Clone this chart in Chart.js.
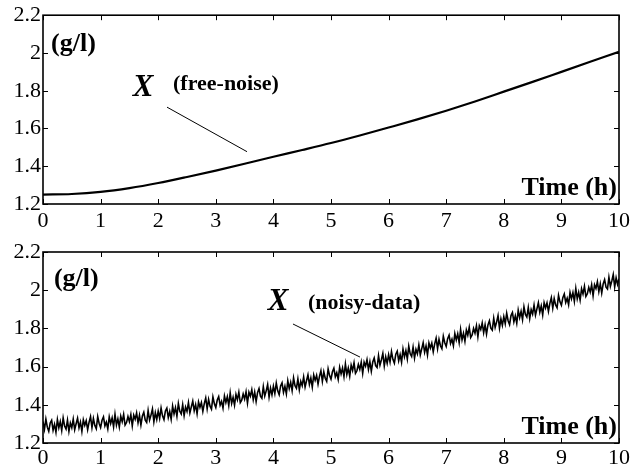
<!DOCTYPE html>
<html>
<head>
<meta charset="utf-8">
<script src="https://cdn.jsdelivr.net/npm/chart.js@4.4.1/dist/chart.umd.min.js"></script>
<style>
    html, body { margin: 0; padding: 0; background: #fff; }
    #wrap { position: relative; width: 643px; height: 465px; }
    .panel { position: absolute; left: 0; width: 643px; }
    #top-panel { top: 0; height: 232px; }
    #bottom-panel { top: 232px; height: 233px; }
</style>
</head>
<body>
<div id="wrap">
    <div class="panel" id="top-panel"><canvas id="chart-top"></canvas></div>
    <div class="panel" id="bottom-panel"><canvas id="chart-bottom"></canvas></div>
</div>
<script>
// Biomass X (g/l) over time (h)
const xTickValues = [0, 1, 2, 3, 4, 5, 6, 7, 8, 9, 10];
const yTickValues = [1.2, 1.4, 1.6, 1.8, 2.0, 2.2];

// free-noise simulation, read every half hour
const hours = [0, 0.5, 1, 1.5, 2, 2.5, 3, 3.5, 4, 4.5, 5, 5.5, 6, 6.5, 7, 7.5, 8, 8.5, 9, 9.5, 10];
const freeNoise = [1.250, 1.253, 1.264, 1.284, 1.311, 1.343, 1.377, 1.413, 1.450, 1.486, 1.523,
                   1.563, 1.605, 1.648, 1.694, 1.743, 1.795, 1.847, 1.900, 1.953, 2.006];

// noisy measurements, one sample every 0.025 h (10 per row = 0.25 h)
const noisyStep = 0.025;
const noisyData = [
    1.312, 1.272, 1.325, 1.283, 1.261, 1.305, 1.319, 1.267, 1.298, 1.256,
    1.323, 1.280, 1.312, 1.266, 1.331, 1.289, 1.273, 1.320, 1.261, 1.305,
    1.280, 1.325, 1.270, 1.301, 1.330, 1.279, 1.310, 1.261, 1.322, 1.293,
    1.317, 1.270, 1.309, 1.338, 1.280, 1.328, 1.292, 1.275, 1.338, 1.302,
    1.281, 1.319, 1.337, 1.290, 1.310, 1.274, 1.337, 1.302, 1.331, 1.284,
    1.350, 1.294, 1.326, 1.284, 1.341, 1.312, 1.350, 1.294, 1.307, 1.339,
    1.312, 1.349, 1.290, 1.346, 1.324, 1.358, 1.306, 1.345, 1.294, 1.341,
    1.361, 1.320, 1.308, 1.370, 1.320, 1.346, 1.378, 1.311, 1.359, 1.323,
    1.367, 1.329, 1.383, 1.342, 1.322, 1.368, 1.383, 1.333, 1.365, 1.324,
    1.393, 1.352, 1.385, 1.340, 1.407, 1.366, 1.352, 1.401, 1.343, 1.388,
    1.365, 1.411, 1.357, 1.389, 1.419, 1.369, 1.401, 1.353, 1.415, 1.387,
    1.412, 1.366, 1.406, 1.436, 1.379, 1.428, 1.393, 1.377, 1.441, 1.406,
    1.386, 1.425, 1.443, 1.398, 1.418, 1.383, 1.446, 1.412, 1.442, 1.396,
    1.462, 1.407, 1.439, 1.398, 1.455, 1.427, 1.466, 1.411, 1.424, 1.457,
    1.430, 1.468, 1.409, 1.466, 1.445, 1.479, 1.427, 1.467, 1.417, 1.464,
    1.485, 1.445, 1.434, 1.495, 1.446, 1.473, 1.506, 1.440, 1.487, 1.452,
    1.497, 1.459, 1.514, 1.473, 1.453, 1.499, 1.515, 1.465, 1.497, 1.457,
    1.526, 1.485, 1.518, 1.474, 1.541, 1.500, 1.486, 1.535, 1.478, 1.523,
    1.500, 1.546, 1.493, 1.526, 1.557, 1.507, 1.540, 1.492, 1.556, 1.528,
    1.554, 1.508, 1.549, 1.579, 1.523, 1.573, 1.539, 1.523, 1.588, 1.553,
    1.534, 1.573, 1.592, 1.547, 1.568, 1.533, 1.596, 1.562, 1.593, 1.547,
    1.614, 1.559, 1.592, 1.550, 1.608, 1.580, 1.620, 1.565, 1.578, 1.611,
    1.585, 1.623, 1.565, 1.623, 1.602, 1.636, 1.585, 1.625, 1.576, 1.624,
    1.645, 1.605, 1.595, 1.657, 1.608, 1.636, 1.669, 1.603, 1.651, 1.617,
    1.662, 1.624, 1.679, 1.638, 1.618, 1.665, 1.681, 1.631, 1.663, 1.623,
    1.692, 1.651, 1.684, 1.640, 1.707, 1.667, 1.653, 1.702, 1.645, 1.690,
    1.667, 1.713, 1.661, 1.693, 1.725, 1.675, 1.708, 1.661, 1.724, 1.697,
    1.723, 1.677, 1.719, 1.749, 1.694, 1.743, 1.709, 1.694, 1.759, 1.725,
    1.706, 1.746, 1.765, 1.721, 1.743, 1.709, 1.773, 1.740, 1.772, 1.726,
    1.794, 1.740, 1.774, 1.733, 1.792, 1.765, 1.806, 1.752, 1.766, 1.800,
    1.775, 1.814, 1.756, 1.814, 1.794, 1.829, 1.778, 1.819, 1.770, 1.818,
    1.840, 1.801, 1.791, 1.853, 1.805, 1.833, 1.867, 1.802, 1.850, 1.816,
    1.862, 1.825, 1.880, 1.840, 1.820, 1.867, 1.883, 1.834, 1.866, 1.827,
    1.896, 1.856, 1.889, 1.846, 1.913, 1.873, 1.859, 1.909, 1.852, 1.898,
    1.875, 1.922, 1.869, 1.902, 1.934, 1.885, 1.918, 1.871, 1.935, 1.907,
    1.934, 1.889, 1.931, 1.961, 1.906, 1.956, 1.923, 1.908, 1.973, 1.939,
    1.921, 1.961, 1.980, 1.936, 1.958, 1.924, 1.988, 1.955, 1.987, 1.941,
    2.009, 1.955, 1.989, 1.948, 2.007, 1.980, 2.021, 1.967, 1.981, 2.015,
    1.990, 2.029, 1.971, 2.029, 2.009, 2.044, 1.993, 2.034, 1.985, 2.033,
    2.055, 2.016, 2.006, 2.068, 2.020, 2.048, 2.082, 2.017, 2.065, 2.031,
    2.060
];

const SERIF = '"Liberation Serif", "Times New Roman", serif';
Chart.defaults.font.family = SERIF;
Chart.defaults.font.size = 22;
Chart.defaults.color = '#000';

// box + inward ticks on all four sides, plus the text notes (in data units)
const matlabFrame = {
    id: 'matlabFrame',
    afterDatasetsDraw(chart, args, opts) {
        const { ctx, chartArea: a, scales: { x, y } } = chart;
        ctx.save();
        ctx.strokeStyle = '#000';
        ctx.lineWidth = 1;
        ctx.beginPath();
        x.ticks.forEach(t => {
            const px = Math.round(x.getPixelForValue(t.value)) + 0.5;
            ctx.moveTo(px, a.bottom); ctx.lineTo(px, a.bottom - 5);
            ctx.moveTo(px, a.top); ctx.lineTo(px, a.top + 5);
        });
        y.ticks.forEach(t => {
            const py = Math.round(y.getPixelForValue(t.value)) + 0.5;
            ctx.moveTo(a.left, py); ctx.lineTo(a.left + 5, py);
            ctx.moveTo(a.right, py); ctx.lineTo(a.right - 5, py);
        });
        ctx.stroke();
        ctx.lineWidth = 1.6;
        ctx.strokeRect(a.left, a.top, a.right - a.left, a.bottom - a.top);

        (opts.notes || []).forEach(n => {
            if (n.type === 'line') {
                ctx.lineWidth = 1;
                ctx.beginPath();
                ctx.moveTo(x.getPixelForValue(n.from[0]), y.getPixelForValue(n.from[1]));
                ctx.lineTo(x.getPixelForValue(n.to[0]), y.getPixelForValue(n.to[1]));
                ctx.stroke();
            } else {
                ctx.font = n.font;
                ctx.fillStyle = '#000';
                ctx.textAlign = n.align || 'left';
                ctx.textBaseline = 'middle';
                ctx.fillText(n.text, x.getPixelForValue(n.at[0]), y.getPixelForValue(n.at[1]));
            }
        });
        ctx.restore();
    }
};

function makeOptions(padTop, xAxisHeight, labelPad, notes) {
    return {
        responsive: true,
        maintainAspectRatio: false,
        animation: false,
        devicePixelRatio: 1,
        layout: { padding: { top: padTop, right: 24, left: 0, bottom: 0 } },
        scales: {
            x: {
                type: 'linear',
                min: 0, max: 10,
                afterBuildTicks: s => { s.ticks = xTickValues.map(v => ({ value: v })); },
                afterFit: s => { s.height = xAxisHeight; },
                ticks: { padding: labelPad, maxRotation: 0, autoSkip: false, callback: v => String(v) },
                grid: { display: false, drawTicks: false },
                border: { display: false }
            },
            y: {
                type: 'linear',
                min: 1.2, max: 2.2,
                afterBuildTicks: s => { s.ticks = yTickValues.map(v => ({ value: v })); },
                afterFit: s => { s.width = 43; },
                ticks: { padding: 2, callback: v => String(Math.round(v * 10) / 10) },
                grid: { display: false, drawTicks: false },
                border: { display: false }
            }
        },
        plugins: {
            legend: { display: false },
            tooltip: { enabled: false },
            matlabFrame: { notes: notes }
        }
    };
}

const BOLD = 'bold 26px ' + SERIF;
const BOLD_SMALL = 'bold 22px ' + SERIF;
const BIG_X = 'italic bold 31px ' + SERIF;

new Chart(document.getElementById('chart-top'), {
    type: 'line',
    data: {
        datasets: [{
            label: 'X (free-noise)',
            data: hours.map((h, i) => ({ x: h, y: freeNoise[i] })),
            borderColor: '#000',
            borderWidth: 2.2,
            pointRadius: 0,
            cubicInterpolationMode: 'monotone'
        }]
    },
    options: makeOptions(13, 28, 4, [
        { text: '(g/l)', at: [0.14, 2.048], font: BOLD },
        { text: 'X', at: [1.736, 1.812], font: BIG_X, align: 'center' },
        { text: '(free-noise)', at: [2.257, 1.834], font: BOLD_SMALL },
        { type: 'line', from: [2.153, 1.713], to: [3.542, 1.477] },
        { text: 'Time (h)', at: [9.965, 1.284], font: BOLD, align: 'right' }
    ]),
    plugins: [matlabFrame]
});

new Chart(document.getElementById('chart-bottom'), {
    type: 'line',
    data: {
        datasets: [{
            label: 'X (noisy-data)',
            data: noisyData.map((v, i) => ({ x: i * noisyStep, y: v })),
            borderColor: '#000',
            borderWidth: 1.6,
            pointRadius: 0,
            tension: 0
        }]
    },
    options: makeOptions(20, 22, 2, [
        { text: '(g/l)', at: [0.19, 2.059], font: BOLD },
        { text: 'X', at: [4.08, 1.938], font: BIG_X, align: 'center' },
        { text: '(noisy-data)', at: [4.6, 1.933], font: BOLD_SMALL },
        { type: 'line', from: [4.34, 1.823], to: [5.503, 1.65] },
        { text: 'Time (h)', at: [9.965, 1.284], font: BOLD, align: 'right' }
    ]),
    plugins: [matlabFrame]
});
</script>
</body>
</html>
